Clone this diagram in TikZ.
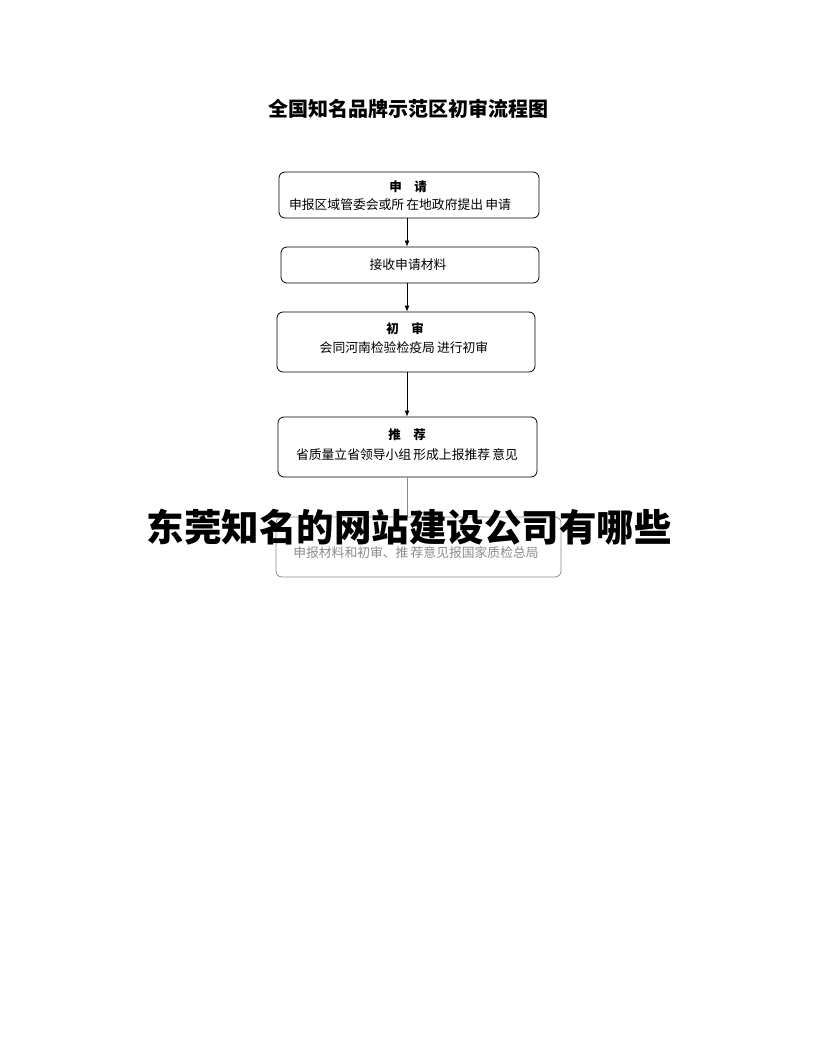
\documentclass[tikz,border=0pt]{standalone}
\usepackage{fontspec}
\usetikzlibrary{arrows.meta}
\newfontfamily\cjk{Noto Sans CJK SC}
\tikzset{
  x=1pt, y=-1pt,
  box/.style={draw=black, line width=0.8pt, rounded corners=6pt, inner sep=0pt},
  fadedbox/.style={draw=black!45, line width=0.8pt, rounded corners=6pt, inner sep=0pt},
  arr/.style={draw=black, line width=0.8pt, -{Latex[length=6pt,width=5pt]}},
  fadedline/.style={draw=black!45, line width=0.8pt},
  head/.style={font=\cjk\bfseries\fontsize{12.5}{14}\selectfont, inner sep=0pt},
  body/.style={font=\cjk\fontsize{12.8}{14}\selectfont, inner sep=0pt},
}
\begin{document}
\begin{tikzpicture}
\useasboundingbox (0,0) rectangle (816,1056);
\fill[white] (0,0) rectangle (816,1056);
% title
\node[font=\cjk\bfseries\fontsize{20}{22}\selectfont, inner sep=0pt] (title) at (408,109) {全国知名品牌示范区初审流程图};
% boxes
\node[box, minimum width=260pt, minimum height=46pt] (b1) at (409,195) {};
\node[head] (b1h) at (408,187) {申\hspace{1em}请};
\node[body] (b1t) at (400,205) {申报区域管委会或所\,在地政府提出\,申请};
\node[box, minimum width=258pt, minimum height=36pt] (b2) at (410,265) {};
\node[body] (b2t) at (408,265) {接收申请材料};
\node[box, minimum width=258pt, minimum height=60pt] (b3) at (406,342) {};
\node[head] (b3h) at (405,329) {初\hspace{1em}审};
\node[body] (b3t) at (404,348) {会同河南检验检疫局\,进行初审};
\node[box, minimum width=259pt, minimum height=60pt] (b4) at (407.5,447) {};
\node[head] (b4h) at (407,435) {推\hspace{1em}荐};
\node[body] (b4t) at (407,455) {省质量立省领导小组\,形成上报推荐\,意见};
\node[fadedbox, minimum width=285pt, minimum height=60pt] (b5) at (418.5,547) {};
\node[body, text=black!45] (b5t) at (416,553) {申报材料和初审、推\,荐意见报国家质检总局};
% connectors
\draw[arr] (b1.south -| 407,0) -- (b2.north -| 407,0);
\draw[arr] (b2.south -| 407,0) -- (b3.north -| 407,0);
\draw[arr] (b3.south -| 407,0) -- (b4.north -| 407,0);
\draw[fadedline] (b4.south -| 407,0) -- (b5.north -| 407,0);
% overlay
\node[font=\cjk\bfseries\fontsize{37.5}{40}\selectfont, inner sep=0pt] (overlay) at (409,527) {东莞知名的网站建设公司有哪些};
\end{tikzpicture}
\end{document}
